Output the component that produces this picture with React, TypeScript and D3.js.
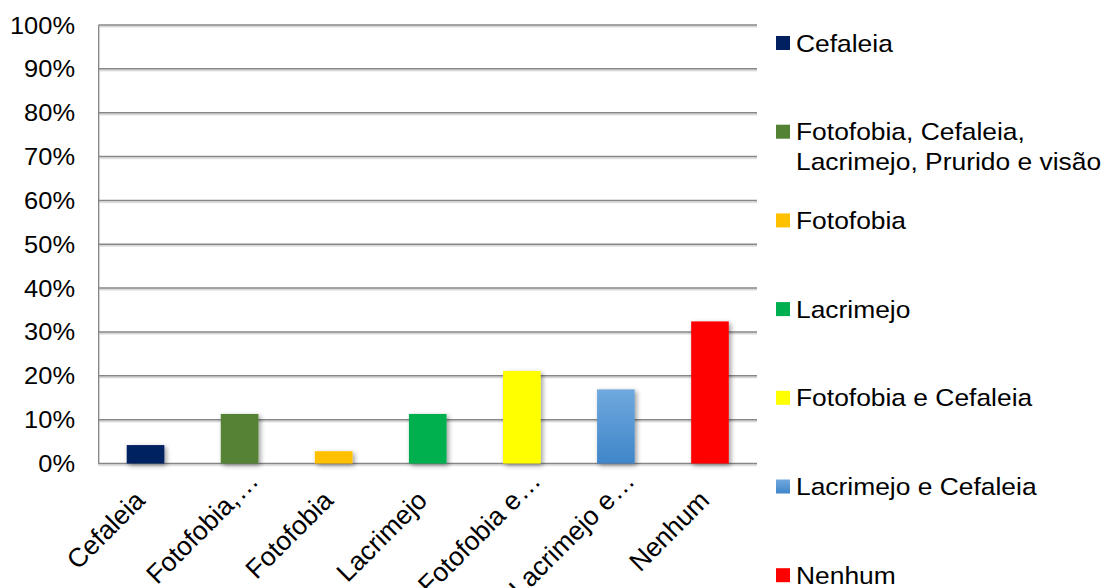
import React from "react";
import * as d3 from "d3";

// Sintomas relatados (percentual de pacientes)
const categories = [
  "Cefaleia",
  "Fotofobia, Cefaleia, Lacrimejo, Prurido e visão",
  "Fotofobia",
  "Lacrimejo",
  "Fotofobia e Cefaleia",
  "Lacrimejo e Cefaleia",
  "Nenhum",
];
// rótulos do eixo como aparecem (truncados levam reticências)
const axisLabels = [
  "Cefaleia",
  "Fotofobia,",
  "Fotofobia",
  "Lacrimejo",
  "Fotofobia e",
  "Lacrimejo e",
  "Nenhum",
];
const axisTruncated = [false, true, false, false, true, true, false];
const values = [4.2, 11.3, 2.8, 11.3, 21.1, 16.9, 32.4];
const legendLines = [
  ["Cefaleia"],
  ["Fotofobia, Cefaleia,", "Lacrimejo, Prurido e visão"],
  ["Fotofobia"],
  ["Lacrimejo"],
  ["Fotofobia e Cefaleia"],
  ["Lacrimejo e Cefaleia"],
  ["Nenhum"],
];
const yTicks = [0, 10, 20, 30, 40, 50, 60, 70, 80, 90, 100];
const colors = [
  "#002060",
  "#548235",
  "#FFC000",
  "#00B050",
  "#FFFF00",
  "url(#blueGrad)",
  "#FF0000",
];

const W = 1106;
const H = 588;
const plot = { left: 98.5, right: 757, top: 25, bottom: 463.5 };
const FONT = "'Liberation Sans', Arial, Helvetica, sans-serif";

export default function App() {
  const x = d3
    .scaleBand<number>()
    .domain(d3.range(categories.length))
    .range([plot.left, plot.right])
    .paddingInner(0.6)
    .paddingOuter(0.3);
  const y = d3.scaleLinear().domain([0, 100]).range([plot.bottom, plot.top]);

  return (
    <svg
      width={W}
      height={H}
      style={{ position: "absolute", left: 0, top: 0, background: "#fff" }}
      fontFamily={FONT}
    >
      <defs>
        <linearGradient id="blueGrad" x1="0" y1="0" x2="0" y2="1">
          <stop offset="0%" stopColor="#70A8DE" />
          <stop offset="100%" stopColor="#3F86C9" />
        </linearGradient>
        <filter id="barShadow" x="-30%" y="-10%" width="160%" height="130%">
          <feDropShadow dx="2" dy="2" stdDeviation="2.6" floodColor="#000" floodOpacity="0.4" />
        </filter>
        <filter id="lineShadow" x="0" y="-200%" width="100%" height="500%">
          <feDropShadow dx="0" dy="1.5" stdDeviation="0.6" floodColor="#000" floodOpacity="0.2" />
        </filter>
      </defs>

      {/* grade horizontal */}
      <g filter="url(#lineShadow)">
        {yTicks.map((t) => (
          <line
            key={t}
            x1={plot.left}
            x2={plot.right}
            y1={y(t)}
            y2={y(t)}
            stroke="#878787"
            strokeWidth={1.5}
          />
        ))}
        <line
          x1={plot.left}
          x2={plot.left}
          y1={plot.top}
          y2={plot.bottom}
          stroke="#878787"
          strokeWidth={1.6}
        />
      </g>

      {/* rótulos do eixo Y */}
      {yTicks.map((t) => (
        <g key={t} transform={`translate(75, ${y(t) + 8.5}) scale(1.06, 1)`}>
          <text x={0} y={0} textAnchor="end" fontSize={24} fill="#000">
            {`${t}%`}
          </text>
        </g>
      ))}

      {/* barras */}
      <g filter="url(#barShadow)">
        {values.map((v, i) => (
          <rect
            key={i}
            x={x(i)}
            y={y(v)}
            width={x.bandwidth()}
            height={y(0) - y(v)}
            fill={colors[i]}
          />
        ))}
      </g>

      {/* rótulos do eixo X */}
      {axisLabels.map((lab, i) => {
        const cx = (x(i) as number) + x.bandwidth() / 2;
        return (
          <g key={i} transform={`translate(${cx + 1}, 502) rotate(-45)`}>
            <text x={0} y={0} textAnchor="end" fontSize={26.5} fill="#000">
              {lab}
            </text>
            {axisTruncated[i] && (
              <text x={1} y={0} textAnchor="start" fontSize={26.5} fill="#000">
                …
              </text>
            )}
          </g>
        );
      })}

      {/* legenda */}
      {legendLines.map((lines, i) => {
        const cy = 43 + i * 88.7;
        return (
          <g key={i}>
            <rect x={776} y={cy - 7} width={14} height={14} fill={colors[i]} />
            {lines.map((ln, j) => (
              <g key={j} transform={`translate(796, ${cy + 8.5 + j * 29.5}) scale(1.1, 1)`}>
                <text x={0} y={0} fontSize={24} fill="#000">
                  {ln}
                </text>
              </g>
            ))}
          </g>
        );
      })}
    </svg>
  );
}
